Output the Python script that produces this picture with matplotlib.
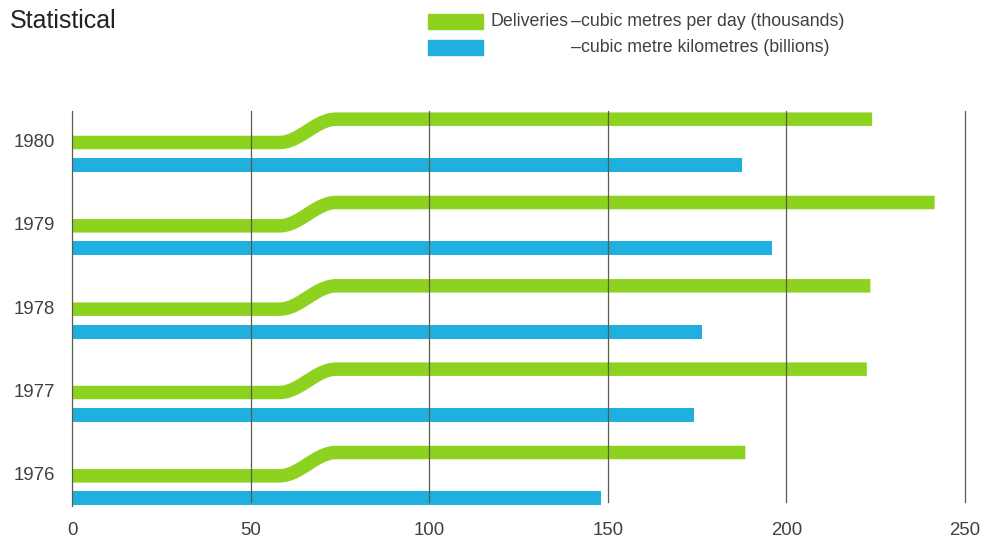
import numpy as np
import matplotlib
matplotlib.use("Agg")
import matplotlib.pyplot as plt
from matplotlib.patches import Rectangle

plt.rcParams['font.family'] = ['Liberation Sans', 'DejaVu Sans']

# ---- data -------------------------------------------------------------
years = [1976, 1977, 1978, 1979, 1980]
deliveries = [188.5, 222.5, 223.5, 241.5, 224.0]   # cubic metres per day (thousands)
transport = [148.0, 174.0, 176.5, 196.0, 187.5]     # cubic metre kilometres (billions)
x_ticks = [0, 50, 100, 150, 200, 250]
title = "Statistical"
legend_green = "Deliveries"
legend_green_rest = "\u2013cubic metres per day (thousands)"
legend_blue_rest = "\u2013cubic metre kilometres (billions)"

# ---- style ------------------------------------------------------------
GREEN = "#8cd21f"
BLUE = "#1fb0e0"
GRID = "#5e5a48"
TEXT = "#404040"

W, H, DPI = 994, 544, 100
fig = plt.figure(figsize=(W / DPI, H / DPI), dpi=DPI)
fig.patch.set_facecolor("white")

ax_left, ax_right = 72, 965
ax_top, ax_bot = 100, 510
ax = fig.add_axes([ax_left / W, (H - ax_bot) / H,
                   (ax_right - ax_left) / W, (ax_bot - ax_top) / H])
ax.set_xlim(0, 250)
ax.set_ylim(-0.41, 4.51)
ax.axis("off")

# vertical offsets within a year slot
rise = 0.28        # green bar steps up by this amount
blue_off = -0.27   # blue bar sits below the green one
step_start, step_end = 58.0, 74.0

pt = 72 / DPI
for i, (d, t) in enumerate(zip(deliveries, transport)):
    # green bar with a smooth step up
    xs = np.concatenate(([0.0], np.linspace(step_start, step_end, 60), [d]))
    tt = np.clip((xs - step_start) / (step_end - step_start), 0, 1)
    ys = i + rise * (1 - np.cos(np.pi * tt)) / 2
    ax.plot(xs, ys, color=GREEN, lw=13.5 * pt, solid_capstyle="butt",
            solid_joinstyle="round", zorder=2)
    # blue bar
    ax.plot([0, t], [i + blue_off, i + blue_off], color=BLUE, lw=14 * pt,
            solid_capstyle="butt", zorder=2)

# grid lines drawn over the bars
for v in x_ticks:
    lo = -0.36 if v == 0 else -0.31
    ax.plot([v, v], [lo, 4.38], color=GRID, lw=0.9, zorder=3, clip_on=False)

# x tick labels
for v in x_ticks:
    ax.text(v, -0.41 - 21 / 83.5, str(v), ha="center", va="center",
            fontsize=13.4, color=TEXT)

# year labels
for i, y in enumerate(years):
    ax.text(-17 / 3.572, i, str(y), ha="right", va="center",
            fontsize=13.4, color=TEXT)

# title
fig.text(10 / W, 1 - 21 / H, title, ha="left", va="center",
         fontsize=18, color="#222222")

# legend
fig.patches.append(Rectangle((428 / W, 1 - 29 / H), 55 / W, 15 / H,
                             transform=fig.transFigure, color=GREEN))
fig.patches.append(Rectangle((428 / W, 1 - 55 / H), 55 / W, 15 / H,
                             transform=fig.transFigure, color=BLUE))
dash_x = 571 / W
fig.text(dash_x - 2 / W, 1 - 21 / H, legend_green, ha="right", va="center",
         fontsize=12.8, color=TEXT)
fig.text(dash_x, 1 - 21 / H, legend_green_rest, ha="left", va="center",
         fontsize=12.8, color=TEXT)
fig.text(dash_x, 1 - 47 / H, legend_blue_rest, ha="left", va="center",
         fontsize=12.8, color=TEXT)

fig.savefig("out.png", dpi=DPI, facecolor="white")
